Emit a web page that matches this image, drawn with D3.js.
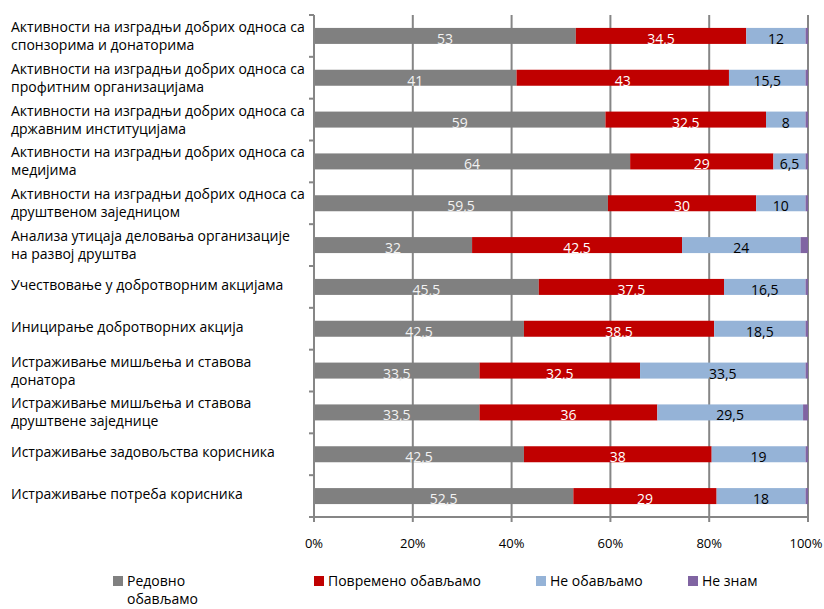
<!DOCTYPE html>
<html lang="sr">
<head>
    <meta charset="UTF-8">
    <title>Активности</title>
    <script src="https://d3js.org/d3.v7.min.js"></script>
    <style>
        body { margin: 0; background: #fff; }
        svg text { font-family: "Open Sans", sans-serif; }
        .cat { font-size: 14px; fill: #000; }
        .val { font-size: 14px; }
        .tick-label { font-size: 13px; fill: #000; }
        .legend text { font-size: 14px; fill: #000; }
    </style>
</head>
<body>
<svg width="824" height="609"></svg>
<script>
    const categories = [
        ["Активности на изградњи добрих односа са", "спонзорима и донаторима"],
        ["Активности на изградњи добрих односа са", "профитним организацијама"],
        ["Активности на изградњи добрих односа са", "државним институцијама"],
        ["Активности на изградњи добрих односа са", "медијима"],
        ["Активности на изградњи добрих односа са", "друштвеном заједницом"],
        ["Анализа утицаја деловања организације", "на развој друштва"],
        ["Учествовање у добротворним акцијама"],
        ["Иницирање добротворних акција"],
        ["Истраживање мишљења и ставова", "донатора"],
        ["Истраживање мишљења и ставова", "друштвене заједнице"],
        ["Истраживање задовољства корисника"],
        ["Истраживање потреба корисника"]
    ];
    const seriesNames = ["Редовно обављамо", "Повремено обављамо", "Не обављамо", "Не знам"];
    const redovno   = [53, 41, 59, 64, 59.5, 32, 45.5, 42.5, 33.5, 33.5, 42.5, 52.5];
    const povremeno = [34.5, 43, 32.5, 29, 30, 42.5, 37.5, 38.5, 32.5, 36, 38, 29];
    const neObav    = [12, 15.5, 8, 6.5, 10, 24, 16.5, 18.5, 33.5, 29.5, 19, 18];
    const neZnam    = [0.5, 0.5, 0.5, 0.5, 0.5, 1.5, 0.5, 0.5, 0.5, 1, 0.5, 0.5];
    const xTicks = [0, 20, 40, 60, 80, 100];

    const colors = ["#808080", "#c00000", "#95b3d7", "#8064a2"];
    const labelColors = ["#f2f2f2", "#ffffff", "#000000", null];

    const svg = d3.select("svg");
    const pLeft = 314, pRight = 808, pTop = 15, pBottom = 517;

    const x = d3.scaleLinear().domain([0, 100]).range([pLeft, pRight]);
    const y = d3.scaleBand().domain(d3.range(categories.length)).range([pTop, pBottom]);
    const barH = 16;

    // gridlines
    svg.append("g").selectAll("line")
        .data(xTicks.slice(1))
        .enter().append("line")
        .attr("x1", d => x(d)).attr("x2", d => x(d))
        .attr("y1", pTop).attr("y2", pBottom)
        .attr("stroke", "#868686").attr("stroke-width", 2);

    // stacked data
    const series = [redovno, povremeno, neObav, neZnam];
    const rows = categories.map((c, i) => {
        let acc = 0;
        return series.map((s, k) => {
            const seg = {row: i, k: k, v: s[i], x0: acc, x1: acc + s[i]};
            acc += s[i];
            return seg;
        });
    });
    const segs = rows.flat();

    svg.append("g").selectAll("rect")
        .data(segs)
        .enter().append("rect")
        .attr("x", d => x(d.x0))
        .attr("y", d => y(d.row) + y.bandwidth() / 2 - barH / 2)
        .attr("width", d => x(d.x1) - x(d.x0))
        .attr("height", barH)
        .attr("fill", d => colors[d.k]);

    svg.append("g").selectAll("text")
        .data(segs.filter(d => d.k < 3))
        .enter().append("text")
        .attr("class", "val")
        .attr("x", d => (x(d.x0) + x(d.x1)) / 2)
        .attr("y", d => y(d.row) + y.bandwidth() / 2 + 8)
        .attr("text-anchor", "middle")
        .attr("fill", d => labelColors[d.k])
        .text(d => String(d.v).replace(".", ","));

    // left axis
    const axisCol = "#868686";
    svg.append("line")
        .attr("x1", pLeft).attr("x2", pLeft)
        .attr("y1", pTop).attr("y2", pBottom + 5)
        .attr("stroke", axisCol).attr("stroke-width", 2);
    svg.append("g").selectAll("line")
        .data(d3.range(categories.length + 1))
        .enter().append("line")
        .attr("x1", pLeft - 5).attr("x2", pLeft)
        .attr("y1", d => pTop + d * y.step()).attr("y2", d => pTop + d * y.step())
        .attr("stroke", axisCol).attr("stroke-width", 2);

    // bottom axis
    svg.append("line")
        .attr("x1", pLeft - 5).attr("x2", pRight)
        .attr("y1", pBottom).attr("y2", pBottom)
        .attr("stroke", axisCol).attr("stroke-width", 2);
    svg.append("g").selectAll("line")
        .data(xTicks)
        .enter().append("line")
        .attr("x1", d => x(d)).attr("x2", d => x(d))
        .attr("y1", pBottom).attr("y2", pBottom + 5)
        .attr("stroke", axisCol).attr("stroke-width", 2);
    svg.append("g").selectAll("text")
        .data(xTicks)
        .enter().append("text")
        .attr("class", "tick-label")
        .attr("x", d => d === 100 ? x(d) - 2 : x(d))
        .attr("y", 548)
        .attr("text-anchor", "middle")
        .text(d => d + "%");

    // category labels
    const cat = svg.append("g").selectAll("text")
        .data(categories)
        .enter().append("text")
        .attr("class", "cat")
        .attr("x", 11)
        .attr("y", (d, i) => d.length > 1
            ? y(i) + y.bandwidth() / 2 - 9 + 5
            : y(i) + y.bandwidth() / 2 - 2 + 5);
    cat.selectAll("tspan")
        .data(d => d)
        .enter().append("tspan")
        .attr("x", 11)
        .attr("dy", (d, j) => j === 0 ? 0 : 18)
        .text(d => d);

    // legend
    const legX = [113, 314, 536, 688];
    const leg = svg.append("g").attr("class", "legend");
    seriesNames.forEach((n, k) => {
        leg.append("rect")
            .attr("x", legX[k]).attr("y", 576)
            .attr("width", 10).attr("height", 10)
            .attr("fill", colors[k]);
        const t = leg.append("text").attr("x", legX[k] + 14).attr("y", 586);
        if (k === 0) {
            t.append("tspan").attr("x", legX[k] + 14).text("Редовно");
            t.append("tspan").attr("x", legX[k] + 14).attr("dy", 18).text("обављамо");
        } else {
            t.text(n);
        }
    });
</script>
</body>
</html>
